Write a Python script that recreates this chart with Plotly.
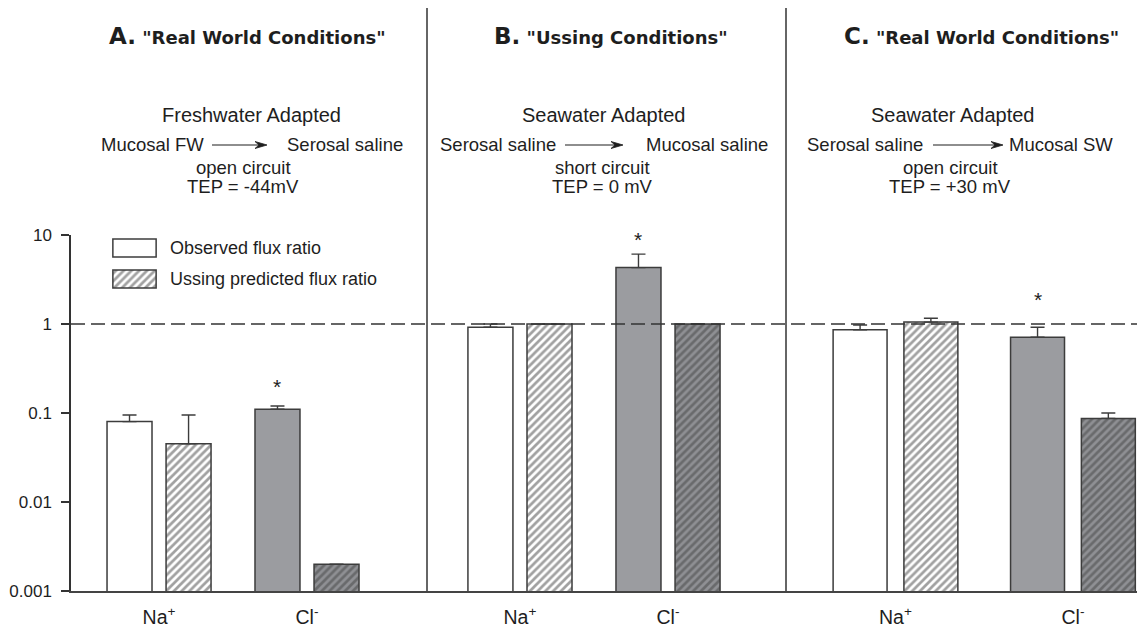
import math
import plotly.graph_objects as go

# ---------------- data ----------------
categories = ["Na<sup>+</sup>", "Cl<sup>-</sup>"]

obs_A = [0.08, 0.11]
obs_A_upper = [0.095, 0.12]
pred_A = [0.045, 0.002]
pred_A_upper = [0.095, None]

obs_B = [0.92, 4.3]
obs_B_upper = [1.0, 6.1]
pred_B = [1.0, 1.0]
pred_B_upper = [None, None]

obs_C = [0.86, 0.71]
obs_C_upper = [0.975, 0.92]
pred_C = [1.05, 0.087]
pred_C_upper = [1.16, 0.10]

star_heights = [0.20, 9.0, 1.9]   # asterisk over observed Cl- bar in each panel

panel_titles = ['"Real World Conditions"', '"Ussing Conditions"', '"Real World Conditions"']
panel_letters = ["A.", "B.", "C."]
adapted = ["Freshwater Adapted", "Seawater Adapted", "Seawater Adapted"]
from_side = ["Mucosal FW", "Serosal saline", "Serosal saline"]
to_side = ["Serosal saline", "Mucosal saline", "Mucosal SW"]
circuit = ["open circuit", "short circuit", "open circuit"]
tep = ["TEP = -44mV", "TEP = 0 mV", "TEP = +30 mV"]

legend_labels = ["Observed flux ratio", "Ussing predicted flux ratio"]
y_tickvals = [0.001, 0.01, 0.1, 1, 10]
y_ticktext = ["0.001", "0.01", "0.1", "1", "10"]

# ---------------- styling ----------------
W, H = 1137, 628
ML, MB, MT = 71, 37, 235
PW, PH = W - ML, H - MT - MB


def px(x):
    return (x - ML) / PW


def py(y):
    return (H - MB - y) / PH


WHITE = "#ffffff"
GRAY = "#9b9ca0"
HGRAY = "#8f9094"
EDGE = "#3c3c3c"
INK = "#1e1e1e"
HATCH = "#111111"
HSIZE, HSOLID = 5.5, 0.5
BARGAP = 0.202
GROUPGAP = 0.238

xdoms = [[0, px(427)], [px(427), px(786)], [px(786), 1]]
xranges = [[-0.595, 1.811], [-0.628, 1.797], [-0.617, 1.361]]

obs_all = [obs_A, obs_B, obs_C]
obs_up_all = [obs_A_upper, obs_B_upper, obs_C_upper]
pred_all = [pred_A, pred_B, pred_C]
pred_up_all = [pred_A_upper, pred_B_upper, pred_C_upper]


def plus(vals, ups):
    return [(u - v) if u is not None else None for v, u in zip(vals, ups)]


fig = go.Figure()
for i in range(3):
    xa = "x" if i == 0 else f"x{i+1}"
    fig.add_trace(go.Bar(
        x=categories, y=obs_all[i], xaxis=xa, yaxis="y",
        marker=dict(color=[WHITE, GRAY], line=dict(color=EDGE, width=1.5)),
        error_y=dict(type="data", symmetric=False,
                     array=plus(obs_all[i], obs_up_all[i]),
                     arrayminus=[0, 0], color=EDGE, thickness=1.4, width=7),
        hoverinfo="skip",
    ))
    fig.add_trace(go.Bar(
        x=categories, y=pred_all[i], xaxis=xa, yaxis="y",
        marker=dict(color=[WHITE, HGRAY], line=dict(color=EDGE, width=1.5),
                    pattern=dict(shape="/", fgcolor=HATCH,
                                 size=HSIZE, solidity=HSOLID)),
        error_y=dict(type="data", symmetric=False,
                     array=plus(pred_all[i], pred_up_all[i]),
                     arrayminus=[0, 0], color=EDGE, thickness=1.4, width=7),
        hoverinfo="skip",
    ))

# legend boxes (drawn as bars in a small hidden subplot)
fig.add_trace(go.Bar(
    y=[1, 0], x=[1, 1], base=[0, 0], orientation="h", width=0.58,
    xaxis="x4", yaxis="y2",
    marker=dict(color=[WHITE, WHITE], line=dict(color=EDGE, width=1.5),
                pattern=dict(shape=["", "/"], fgcolor=HATCH,
                             size=HSIZE, solidity=HSOLID)),
    hoverinfo="skip",
))

annotations = []
shapes = []

# separators
for xs in [427, 786]:
    shapes.append(dict(type="line", xref="paper", yref="paper",
                       x0=px(xs), x1=px(xs), y0=0, y1=py(8),
                       line=dict(color="#333333", width=1.5)))
# dashed reference line at 1 (log10(1)=0 inside range [-3,1])
shapes.append(dict(type="line", xref="paper", yref="paper", x0=0, x1=1,
                   y0=(0 - (-3)) / 4, y1=(0 - (-3)) / 4, layer="above",
                   line=dict(color="#333333", width=1.3, dash="14px,6px")))

title_cx = [247, 611, 981]
adapt_cx = [252, 603, 952]
from_right = [206, 558, 925]
to_left = [285, 644, 1007]
arrow_tail = [212, 565, 933]
arrow_head = [267, 623, 1003]
circ_cx = [243, 602, 950]
ARROW_Y = 145

for i in range(3):
    annotations.append(dict(
        xref="paper", yref="paper", x=px(title_cx[i]), y=py(36),
        text=f"<b><span style='font-size:23px'>{panel_letters[i]}</span> {panel_titles[i]}</b>",
        showarrow=False, font=dict(family="DejaVu Sans", size=18, color=INK),
        xanchor="center", yanchor="middle"))
    annotations.append(dict(xref="paper", yref="paper", x=px(adapt_cx[i]), y=py(115),
                            text=adapted[i], showarrow=False, xanchor="center",
                            yanchor="middle", font=dict(size=20, color=INK)))
    annotations.append(dict(xref="paper", yref="paper", x=px(from_right[i]), y=py(145),
                            text=from_side[i], showarrow=False, xanchor="right",
                            yanchor="middle", font=dict(size=18.5, color=INK)))
    annotations.append(dict(xref="paper", yref="paper", x=px(to_left[i]), y=py(145),
                            text=to_side[i], showarrow=False, xanchor="left",
                            yanchor="middle", font=dict(size=18.5, color=INK)))
    # arrow: shaft + slim stealth head
    ht, hh = arrow_tail[i], arrow_head[i]
    shapes.append(dict(type="line", xref="paper", yref="paper",
                       x0=px(ht), x1=px(hh - 6), y0=py(ARROW_Y), y1=py(ARROW_Y),
                       line=dict(color=INK, width=1.2)))
    path = (f"M {px(hh)} {py(ARROW_Y)} L {px(hh - 12)} {py(ARROW_Y - 3.5)} "
            f"L {px(hh - 8)} {py(ARROW_Y)} L {px(hh - 12)} {py(ARROW_Y + 3.5)} Z")
    shapes.append(dict(type="path", xref="paper", yref="paper", path=path,
                       fillcolor=INK, line=dict(color=INK, width=0.8)))
    annotations.append(dict(xref="paper", yref="paper", x=px(circ_cx[i]), y=py(167),
                            text=circuit[i], showarrow=False, xanchor="center",
                            yanchor="middle", font=dict(size=18.5, color=INK)))
    annotations.append(dict(xref="paper", yref="paper", x=px(circ_cx[i]), y=py(186),
                            text=tep[i], showarrow=False, xanchor="center",
                            yanchor="middle", font=dict(size=18.5, color=INK)))
    # star over observed Cl- bar
    xa = "x" if i == 0 else f"x{i+1}"
    annotations.append(dict(xref=xa, yref="y", x=1 - (1 - BARGAP) / 4,
                            y=math.log10(star_heights[i]), text="*", showarrow=False,
                            xanchor="center", yanchor="middle",
                            font=dict(size=21, color=INK)))

legend_y = [248, 279]
for j, lab in enumerate(legend_labels):
    annotations.append(dict(xref="paper", yref="paper", x=px(168), y=py(legend_y[j]),
                            text=lab, xanchor="left", yanchor="middle", showarrow=False,
                            font=dict(size=18, color=INK)))

layout = dict(
    width=W, height=H,
    margin=dict(l=ML, r=0, t=MT, b=MB, pad=0),
    paper_bgcolor="white", plot_bgcolor="white",
    showlegend=False, barmode="group", bargap=BARGAP, bargroupgap=GROUPGAP,
    font=dict(family="Liberation Sans, Arial, sans-serif", color=INK, size=18),
    yaxis=dict(type="log", range=[-3, 1], tickvals=y_tickvals, ticktext=y_ticktext,
               ticks="outside", ticklen=8, tickwidth=1.5, tickcolor="#333333",
               showline=True, linecolor="#333333", linewidth=1.5, showgrid=False,
               zeroline=False, tickfont=dict(size=17), ticklabelstandoff=6,
               anchor="x", fixedrange=True),
    xaxis4=dict(domain=[px(112), px(157)], range=[-0.02, 1.02], visible=False, anchor="y2"),
    yaxis2=dict(domain=[py(294.5), py(235.6)], range=[-0.5, 1.4], visible=False, anchor="x4"),
    annotations=annotations, shapes=shapes,
)
for i in range(3):
    key = "xaxis" if i == 0 else f"xaxis{i+1}"
    layout[key] = dict(domain=xdoms[i], range=xranges[i], anchor="y", type="category",
                       showline=True, linecolor="#444444", linewidth=1.5, ticks="",
                       showgrid=False, zeroline=False, tickfont=dict(size=19.5),
                       ticklabelstandoff=8, fixedrange=True)

fig.update_layout(**layout)
fig.write_html("out.html")
